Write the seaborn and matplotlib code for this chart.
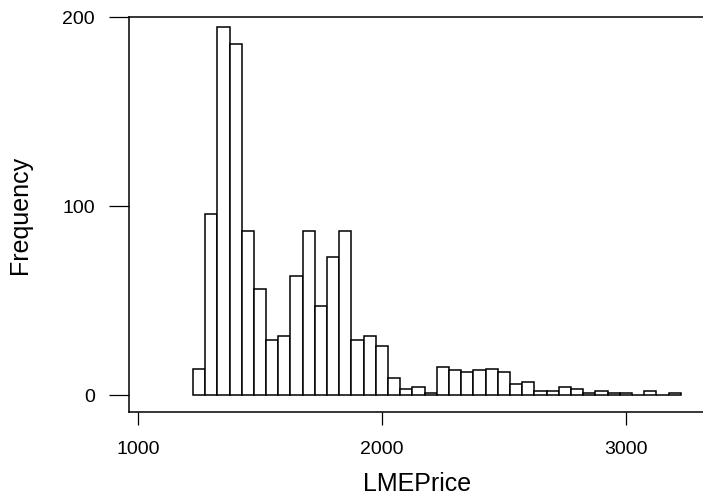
import numpy as np
import pandas as pd
import matplotlib
matplotlib.use('Agg')
import matplotlib.pyplot as plt
import seaborn as sns

# histogram of LME price, 50-wide bins starting at 1225
bin_start = 1225
bin_width = 50
counts = [14, 96, 195, 186, 87, 56, 29, 31, 63, 87,
          47, 73, 87, 29, 31, 26, 9, 3, 4, 1,
          15, 13, 12, 13, 14, 12, 6, 7, 2, 2,
          4, 3, 1, 2, 1, 1, 0, 2, 0, 1]
x_ticks = [1000, 2000, 3000]
y_ticks = [0, 100, 200]

edges = [bin_start + bin_width * i for i in range(len(counts) + 1)]
df = pd.DataFrame({'price': [e + bin_width / 2 for e in edges[:-1]],
                   'count': counts})

sns.set_style('ticks')
plt.rcParams['font.family'] = ['Liberation Sans', 'DejaVu Sans']
plt.rcParams['text.color'] = 'black'
plt.rcParams['axes.labelcolor'] = 'black'

fig = plt.figure(figsize=(7.03, 5.0), dpi=100)
ax = fig.add_axes([0.1835, 0.176, 0.82, 0.79])

sns.histplot(data=df, x='price', weights='count', bins=edges, color='white',
             edgecolor='black', linewidth=1.1, alpha=1, ax=ax)

ax.set_xlim(963, 3326)
ax.set_ylim(-9, 200.2)
ax.set_xticks(x_ticks)
ax.set_yticks(y_ticks)

for s in ['left', 'bottom', 'top']:
    ax.spines[s].set_linewidth(1.1)
    ax.spines[s].set_color('black')
ax.spines['right'].set_visible(False)

ax.tick_params(axis='y', length=14.4, width=0.9, pad=10, labelsize=14,
               colors='black', labelcolor='black')
ax.tick_params(axis='x', length=9.7, width=0.9, pad=11, labelsize=14,
               colors='black', labelcolor='black')

ax.set_xlabel('LMEPrice', fontsize=18, labelpad=10, color='black')
ax.set_ylabel('Frequency', fontsize=18, labelpad=22, color='black')

fig.savefig('out.png', dpi=100)
